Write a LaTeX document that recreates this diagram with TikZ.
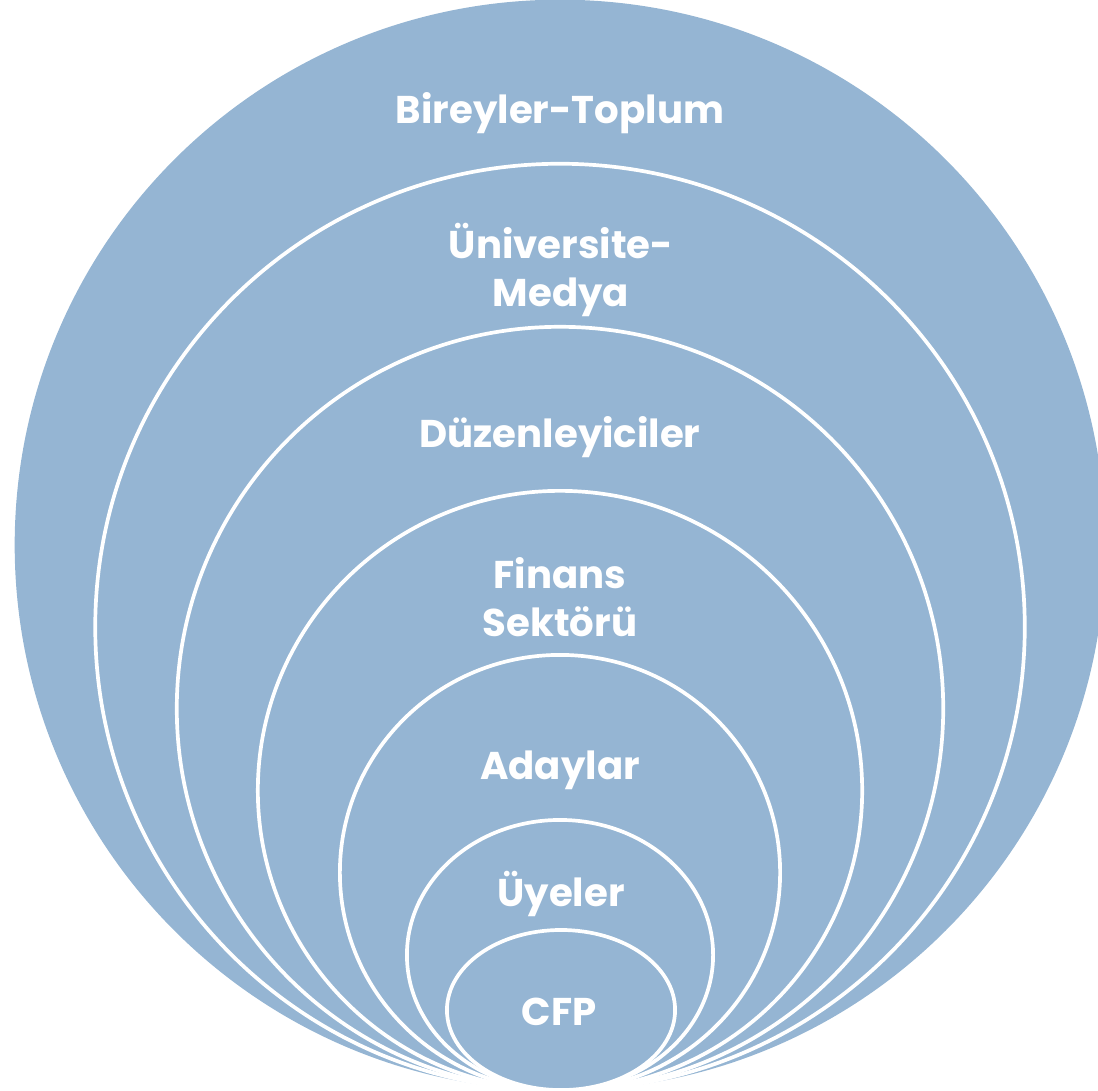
\documentclass[tikz,border=0pt]{standalone}
\usepackage{fontspec}
\setmainfont{Poppins}
\usepackage{tikz}
\definecolor{ringblue}{RGB}{149,181,211}
\tikzset{
  ring/.style={fill=ringblue,draw=white,line width=1.05pt},
  lbl/.style={text=white,font=\bfseries\fontsize{11}{13.4}\selectfont,anchor=base,align=center}
}

\begin{document}
\begin{tikzpicture}[x=0.01cm,y=-0.01cm]
\useasboundingbox (0,0) rectangle (1098,1090);
\clip (0,0) rectangle (1098,1090);

%outer ring
\fill [ringblue] (560,545) ellipse [x radius=5.45cm,y radius=5.45cm];

%inner rings
\draw [ring] (560,627) ellipse [x radius=4.645cm,y radius=4.63cm];
\draw [ring] (560,708.5) ellipse [x radius=3.83cm,y radius=3.815cm];
\draw [ring] (560,790.5) ellipse [x radius=3.02cm,y radius=2.995cm];
\draw [ring] (560,872.5) ellipse [x radius=2.2cm,y radius=2.175cm];
\draw [ring] (560,955) ellipse [x radius=1.53cm,y radius=1.35cm];
\draw [ring] (561,1010) ellipse [x radius=1.14cm,y radius=0.8cm];

%labels
\node [lbl] (toplum) at (560,123) {Bireyler-Toplum};
\node [lbl] (medya) at (561,306) {Üniversite-\\Medya};
\node [lbl] (duzen) at (560,447) {Düzenleyiciler};
\node [lbl] (finans) at (560,636) {Finans\\Sektörü};
\node [lbl] (aday) at (560,779) {Adaylar};
\node [lbl] (uye) at (561,906) {Üyeler};
\node [lbl] (cfp) at (559,1025) {CFP};
\end{tikzpicture}
\end{document}
